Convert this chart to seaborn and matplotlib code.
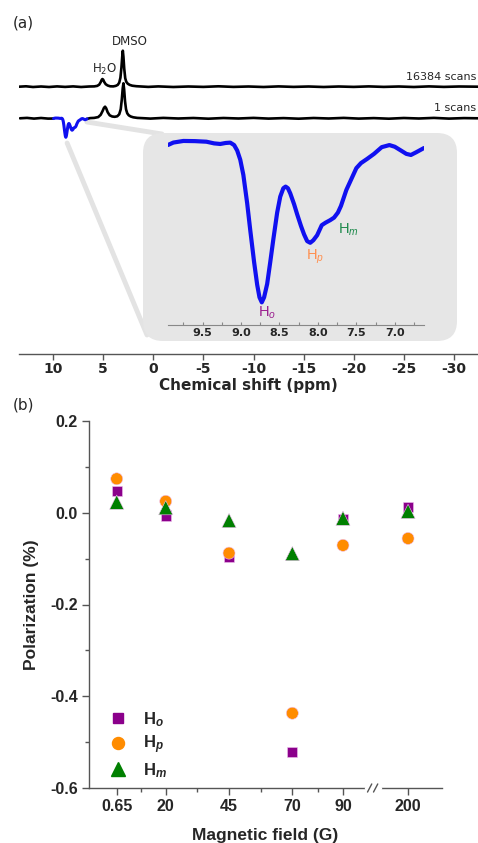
import numpy as np
import pandas as pd
import matplotlib.pyplot as plt
import seaborn as sns
from matplotlib.patches import FancyBboxPatch, ConnectionPatch
from matplotlib.lines import Line2D

sns.set_style("ticks")
plt.rcParams["font.family"] = ["DejaVu Sans"]
plt.rcParams["axes.unicode_minus"] = False
plt.rcParams["mathtext.fontset"] = "custom"
plt.rcParams["mathtext.rm"] = "Liberation Sans"
plt.rcParams["mathtext.it"] = "Liberation Sans:italic"
plt.rcParams["mathtext.bf"] = "Liberation Sans:bold"
plt.rcParams["mathtext.bfit"] = "Liberation Sans:italic:bold"

# ---- (a) 1H spectra: chemical shift (ppm) vs intensity (a.u.) ----
ppm_16k = [13.4, 12.7, 12.0, 11.2, 10.4, 9.6, 8.8, 8.0, 7.2, 6.4, 5.9, 5.6, 5.4, 5.25, 5.15,
           5.08, 5.0, 4.9, 4.75, 4.55, 4.3, 4.0, 3.75, 3.55, 3.4, 3.28, 3.18, 3.1, 3.04, 2.98,
           2.9, 2.8, 2.7, 2.55, 2.35, 2.1, 1.7, 1.2, 0.5, -0.5, -2.0, -3.5, -5.0, -6.5, -8.0,
           -9.5, -11.0, -12.5, -14.0, -15.5, -17.0, -18.5, -20.0, -21.5, -23.0, -24.5, -26.0,
           -27.5, -29.0, -30.5, -32.4]
int_16k = [0.0, 0.4, -0.3, 0.2, -0.3, 0.3, -0.2, 0.3, -0.3, 0.2, 0.3, 0.8, 2.0, 4.5, 6.8,
           7.7, 7.0, 4.8, 2.5, 1.2, 0.4, 0.3, 0.8, 1.8, 4.0, 9.0, 19.0, 30.0, 36.0, 30.0,
           18.0, 8.5, 5.0, 3.0, 1.8, 1.0, 0.5, 0.2, -0.2, 0.3, -0.3, 0.2, -0.2, 0.4, -0.2,
           0.2, -0.3, 0.3, -0.2, 0.2, -0.3, 0.2, -0.2, 0.3, -0.2, 0.2, -0.3,
           0.3, -0.2, 0.2, 0.0]

ppm_1scan_left = [13.3, 12.6, 11.9, 11.2, 10.5, 9.95]
int_1scan_left = [0.0, 0.4, -0.3, 0.3, -0.3, -0.24]

ppm_1scan_right = [6.62, 6.3, 5.9, 5.5, 5.25, 5.05, 4.92, 4.81, 4.7, 4.55, 4.35, 4.1, 3.85,
                   3.6, 3.4, 3.25, 3.14, 3.05, 2.98, 2.91, 2.82, 2.72, 2.6, 2.45, 2.25, 2.0,
                   1.6, 1.0, 0.3, -1.0, -2.5, -4.0, -5.5, -7.0, -8.5, -10.0, -11.5, -13.0,
                   -14.5, -16.0, -17.5, -19.0, -20.5, -22.0, -23.5, -25.0, -26.5, -28.0,
                   -29.5, -31.0, -32.4]
int_1scan_right = [-0.6, 0.2, 0.4, 1.2, 3.5, 7.5, 10.5, 11.6, 10.0, 6.0, 3.0, 1.8, 1.5,
                   2.0, 4.0, 9.0, 19.0, 30.0, 35.0, 29.0, 17.0, 9.0, 5.0, 3.0, 1.8, 1.0,
                   0.4, 0.1, -0.3, 0.4, -0.2, 0.3, -0.4, 0.3, -0.2, 0.4, -0.3, 0.2,
                   -0.4, 0.3, -0.2, 0.4, -0.3, 0.2, -0.4, 0.3, -0.2, 0.4,
                   -0.3, 0.2, 0.0]

# aromatic (pyridine) region of the 1-scan hyperpolarized spectrum
ppm_arom = [9.95, 9.88, 9.75, 9.6, 9.45, 9.35, 9.27, 9.2, 9.14, 9.09, 9.05, 9.01, 8.97,
            8.92, 8.88, 8.83, 8.79, 8.76, 8.73, 8.70, 8.66, 8.62, 8.58, 8.53, 8.49, 8.45,
            8.42, 8.39, 8.36, 8.31, 8.27, 8.22, 8.18, 8.14, 8.10, 8.06, 8.01, 7.95, 7.90,
            7.84, 7.79, 7.74, 7.70, 7.63, 7.57, 7.50, 7.44, 7.36, 7.27, 7.17, 7.07, 7.0,
            6.92, 6.85, 6.79, 6.72, 6.62]
int_arom = [-0.24, 0.05, 0.24, 0.22, 0.15, -0.05, -0.12, 0.0, 0.04, -0.25, -0.9, -2.0, -3.8,
            -7.2, -10.4, -14.2, -16.9, -18.4, -19.0, -18.4, -16.8, -14.2, -11.5, -8.3, -6.4,
            -5.4, -5.2, -5.4, -6.0, -7.3, -8.5, -9.9, -10.9, -11.7, -11.9, -11.6, -11.0,
            -9.8, -9.5, -9.2, -8.9, -8.3, -7.5, -5.6, -4.4, -3.0, -2.4, -1.9, -1.3, -0.5,
            -0.25, -0.45, -0.9, -1.3, -1.43, -1.1, -0.6]

# ---- (b) polarization vs magnetic field ----
fields = [0.65, 20, 45, 70, 90, 200]
field_labels = ["0.65", "20", "45", "70", "90", "200"]
pol_Ho = [0.048, -0.006, -0.097, -0.521, -0.014, 0.013]
pol_Hp = [0.074, 0.025, -0.088, -0.437, -0.071, -0.056]
pol_Hm = [0.023, 0.011, -0.017, -0.089, -0.012, 0.003]

# layout helpers (pixel boxes of the 478x843 figure)
W, H = 478, 843
def rect_px(left, top, right, bottom):
    return [left / W, 1 - bottom / H, (right - left) / W, (bottom - top) / H]

off_16k = 267.3
off_1scan = 235.7
axis_grey = "#555555"
blue = "#1010f0"

fig = plt.figure(figsize=(W / 100, H / 100), dpi=100)

# =========================================================
# Panel (a): full spectra
# =========================================================
ax_a = fig.add_axes(rect_px(19, 20, 478, 354), facecolor="none")
line_kw = dict(estimator=None, sort=False, solid_joinstyle="round", solid_capstyle="round")
sns.lineplot(x=ppm_16k, y=np.array(int_16k) + off_16k, ax=ax_a, color="black", lw=1.9, **line_kw)
sns.lineplot(x=ppm_1scan_left, y=np.array(int_1scan_left) + off_1scan, ax=ax_a,
             color="black", lw=1.9, **line_kw)
sns.lineplot(x=ppm_1scan_right, y=np.array(int_1scan_right) + off_1scan, ax=ax_a,
             color="black", lw=1.9, **line_kw)
sns.lineplot(x=ppm_arom, y=np.array(int_arom) + off_1scan, ax=ax_a, color=blue,
             lw=2.2, **line_kw)
ax_a.set_xlim(13.4, -32.4)
ax_a.set_ylim(0, 334)
for s in ["left", "right", "top"]:
    ax_a.spines[s].set_visible(False)
ax_a.spines["bottom"].set_color(axis_grey)
ax_a.spines["bottom"].set_linewidth(1.0)
ax_a.set_yticks([])
ax_a.set_xticks(range(10, -31, -5))
ax_a.tick_params(axis="x", direction="out", length=4, width=1, color=axis_grey, pad=1.5,
                 labelsize=10)
for lab in ax_a.get_xticklabels():
    lab.set_fontweight("bold")
ax_a.set_xlabel("Chemical shift (ppm)", fontsize=11, fontweight="bold", labelpad=2)

ax_a.text(2.3, 312, "DMSO", ha="center", va="center", fontsize=8.5)
ax_a.text(4.9, 285, r"H$_\mathregular{2}$O", ha="center", va="center", fontsize=8.5)
ax_a.text(-32.2, 277, "16384 scans", ha="right", va="center", fontsize=8)
ax_a.text(-32.2, 246, "1 scans", ha="right", va="center", fontsize=8)

# zoom box behind the inset
box = FancyBboxPatch((1.43, 5.02), 3.14, 2.08, boxstyle="round,pad=0,rounding_size=0.2",
                     transform=fig.dpi_scale_trans, fc="#e6e6e6", ec="none", zorder=-1)
fig.add_artist(box)
for xyA, xyB in [((6.62, off_1scan - 3.7), (1.62, 7.09)),
                 ((8.6, off_1scan - 24.7), (1.47, 5.08))]:
    con = ConnectionPatch(xyA=xyA, coordsA=ax_a.transData, xyB=xyB,
                          coordsB=fig.dpi_scale_trans, color="#e3e3e3", lw=3.5, zorder=-2)
    fig.add_artist(con)

# inset: aromatic region
ax_in = fig.add_axes(rect_px(168, 135, 424, 325), facecolor="none", zorder=2)
sns.lineplot(x=ppm_arom, y=int_arom, ax=ax_in, color=blue, lw=3, **line_kw)
ax_in.set_xlim(9.95, 6.62)
ax_in.set_ylim(-21.7, 0.95)
for s in ["left", "right", "top"]:
    ax_in.spines[s].set_visible(False)
ax_in.spines["bottom"].set_color("#888888")
ax_in.spines["bottom"].set_linewidth(0.8)
ax_in.set_yticks([])
ax_in.set_xticks([9.5, 9.0, 8.5, 8.0, 7.5, 7.0])
ax_in.set_xticks([9.75, 9.25, 8.75, 8.25, 7.75, 7.25, 6.75], minor=True)
ax_in.tick_params(axis="x", which="both", direction="in", length=2.5, width=0.8,
                  color="#888888", pad=2, labelsize=8)
for lab in ax_in.get_xticklabels():
    lab.set_fontweight("bold")
ax_in.text(8.66, -20.2, r"H$_{\mathit{o}}$", color="#9b1f8f", fontsize=10.5,
           family="Liberation Sans", ha="center", va="center")
ax_in.text(8.04, -13.6, r"H$_{\mathit{p}}$", color="#ff9050", fontsize=10.5,
           family="Liberation Sans", ha="center", va="center")
ax_in.text(7.6, -10.4, r"H$_{\mathit{m}}$", color="#1e8a4c", fontsize=10.5,
           family="Liberation Sans", ha="center", va="center")

fig.text(13 / W, 1 - 23 / H, "(a)", fontsize=11, va="center")

# =========================================================
# Panel (b): polarization vs field (broken axis after 90 G)
# =========================================================
RATIO = 0.2336
def fwd(g):
    g = np.asarray(g, dtype=float)
    return np.where(g <= 90, g, 90 + (g - 90) * RATIO)
def inv(p):
    p = np.asarray(p, dtype=float)
    return np.where(p <= 90, p, 90 + (p - 90) / RATIO)

proton_names = [r"H$_{\mathbfit{o}}$", r"H$_{\mathbfit{p}}$", r"H$_{\mathbfit{m}}$"]
pol = pd.DataFrame({
    "field": fields * 3,
    "polarization": pol_Ho + pol_Hp + pol_Hm,
    "proton": [proton_names[0]] * 6 + [proton_names[1]] * 6 + [proton_names[2]] * 6,
})
colors = ["#8b008b", "#ff8c00", "#008000"]
marker_list = ["s", "o", "^"]
size_list = [55, 75, 105]
palette = dict(zip(proton_names, colors))
markers = dict(zip(proton_names, marker_list))
sizes = dict(zip(proton_names, size_list))

ax_b = fig.add_axes(rect_px(89, 421, 442, 788))
ax_b.set_xscale("function", functions=(fwd, inv))
sns.scatterplot(data=pol, x="field", y="polarization", hue="proton", style="proton",
                size="proton", palette=palette, markers=markers, sizes=sizes,
                edgecolor="#f0c0f0", linewidth=0.4, ax=ax_b, zorder=3, legend=False)
ax_b.set_xlim(-10.3, 257.4)
ax_b.set_ylim(-0.6, 0.2)
ax_b.set_xticks(fields, labels=field_labels)
ax_b.set_xticks([10.3, 32.5, 57.5, 80], minor=True)
ax_b.set_yticks([-0.6, -0.4, -0.2, 0.0, 0.2], labels=["-0.6", "-0.4", "-0.2", "0.0", "0.2"])
ax_b.set_yticks([-0.5, -0.3, -0.1, 0.1], minor=True)
for s in ["right", "top"]:
    ax_b.spines[s].set_visible(False)
for s in ["left", "bottom"]:
    ax_b.spines[s].set_color(axis_grey)
    ax_b.spines[s].set_linewidth(1.0)
ax_b.tick_params(which="major", direction="out", length=5, width=1, color=axis_grey, pad=3)
ax_b.tick_params(which="minor", direction="out", length=3, width=1, color=axis_grey)
for lab in ax_b.get_xticklabels() + ax_b.get_yticklabels():
    lab.set_fontweight("bold")
    lab.set_fontfamily("Liberation Sans")
    lab.set_fontsize(11.5)
ax_b.set_xlabel("Magnetic field (G)", fontsize=12.5, fontweight="bold",
                family="Liberation Sans", labelpad=10)
ax_b.set_ylabel("Polarization (%)", fontsize=12.5, fontweight="bold",
                family="Liberation Sans", labelpad=8)

# axis break marks
ax_b.plot([0.785, 0.825], [0, 0], transform=ax_b.transAxes, color="white", lw=2.5,
          clip_on=False, zorder=5)
for x0 in [0.789, 0.806]:
    ax_b.plot([x0, x0 + 0.012], [-0.011, 0.011], transform=ax_b.transAxes,
              color=axis_grey, lw=1, clip_on=False, zorder=6)

handles = [Line2D([], [], ls="none", marker=m, ms=np.sqrt(sz), mfc=c, mec=c, label=n)
           for n, c, m, sz in zip(proton_names, colors, marker_list, size_list)]
ax_b.legend(handles=handles, loc="lower left", bbox_to_anchor=(0.035, 0.022),
            frameon=False, borderaxespad=0, borderpad=0, handletextpad=0.5,
            handlelength=2.0, labelspacing=0.3,
            prop={"family": "Liberation Sans", "weight": "bold", "size": 12})

fig.text(13 / W, 1 - 405 / H, "(b)", fontsize=11, va="center")

fig.savefig("out.png", dpi=100)
